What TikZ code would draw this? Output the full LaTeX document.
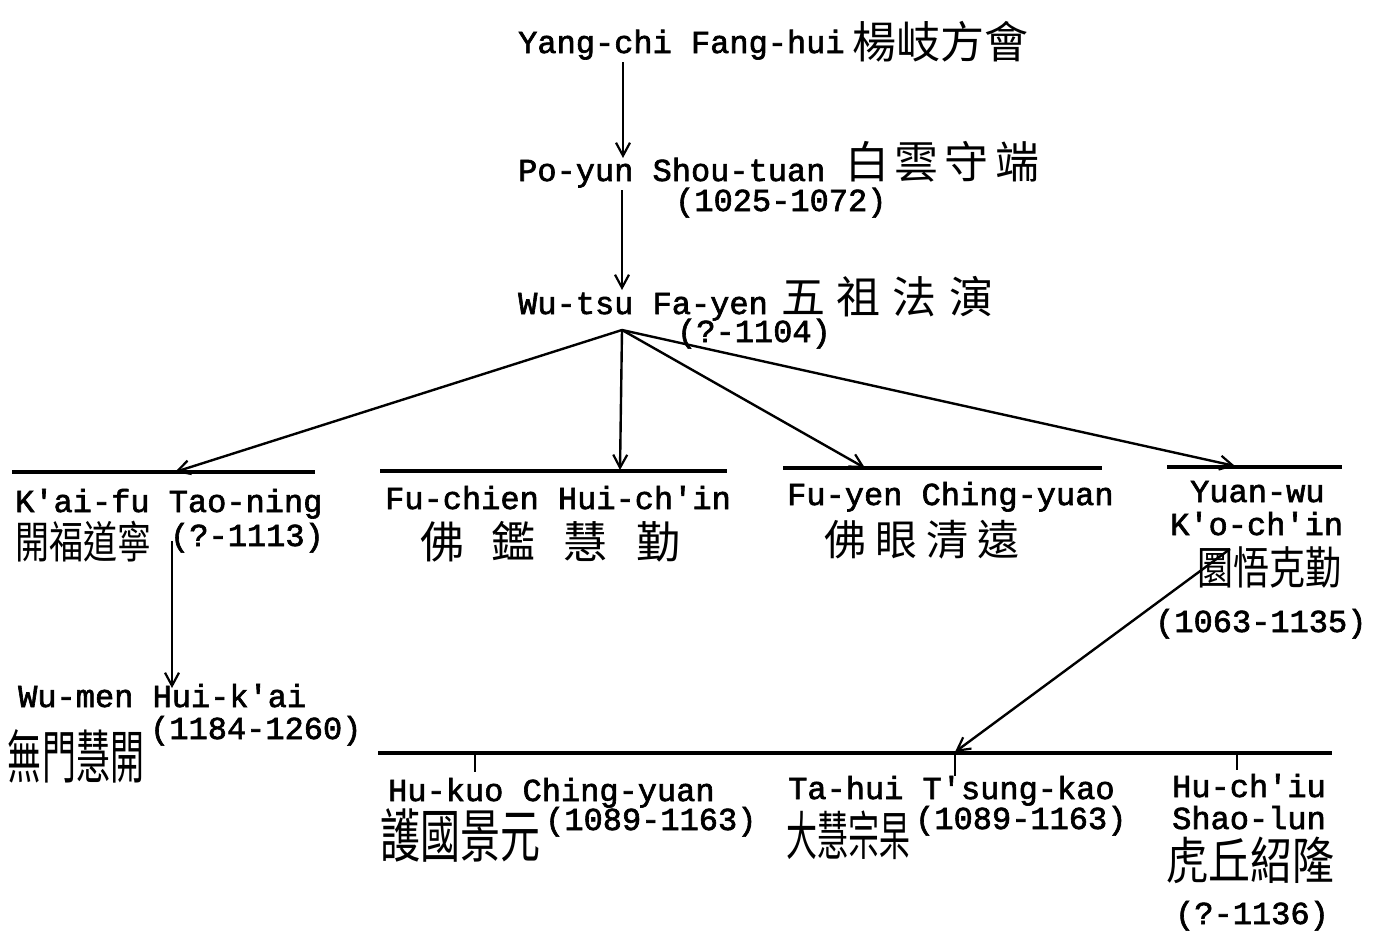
\documentclass[tikz,border=0pt]{standalone}
\usepackage{fontspec}
\newfontfamily\tw{Liberation Mono}[FakeBold=2]
\newfontfamily\cjk{Noto Sans CJK TC}
\usetikzlibrary{arrows.meta}
\newcommand\gp[1]{\hspace{#1pt}}
\newcommand\tallc[2]{\scalebox{1}[#1]{#2}}
\begin{document}
\begin{tikzpicture}[x=1pt,y=-1pt,
  lat/.style={font=\tw\fontsize{32}{32}\selectfont, inner sep=0pt, anchor=base west},
  han/.style={font=\cjk\fontsize{#1}{#1}\selectfont, inner sep=0pt, anchor=center},
  arr/.style={-{Straight Barb[length=13pt,width=14pt,line width=2.2pt]}, line width=2.4pt},
  rule/.style={line width=3.2pt},
  tick/.style={line width=2.4pt}]
\useasboundingbox[fill=white] (0,0) rectangle (1375,932);

% top chain
\node[lat] (yang) at (518,53) {Yang-chi Fang-hui};
\node[han=44] (yangC) at (940,42) {楊岐方會};
\node[lat] (poyun) at (518,181) {Po-yun Shou-tuan};
\node[han=44] (poyunC) at (942,162) {白\gp{6}雲\gp{6}守\gp{6}端};
\node[lat] (poyunD) at (675,211) {(1025-1072)};
\node[lat] (wutsu) at (518,314) {Wu-tsu Fa-yen};
\node[han=44] (wutsuC) at (887,297) {五\gp{12}祖\gp{12}法\gp{12}演};
\node[lat] (wutsuD) at (677,342) {(?-1104)};

\coordinate (a1s) at (623,62);  \coordinate (a1e) at (623,158);
\coordinate (a2s) at (622,190); \coordinate (a2e) at (622,290);
\draw[arr] (a1s) -- (a1e);
\draw[arr] (a2s) -- (a2e);

% hub and branches
\coordinate (hub) at (622,330);
\coordinate (b1) at (175,472);
\coordinate (b2) at (620,470);
\coordinate (b3) at (865,468);
\coordinate (b4) at (1235,466);
\draw[arr] (hub) -- (b1);
\draw[arr] (hub) -- (b2);
\draw[arr] (hub) -- (b3);
\draw[arr] (hub) -- (b4);

% rules of row two
\draw[rule] (12,472) -- (315,472);
\draw[rule] (380,471) -- (727,471);
\draw[rule] (783,468) -- (1102,468);
\draw[rule] (1167,467) -- (1342,467);

% row two
\node[lat] (kaifu) at (15,512) {K'ai-fu Tao-ning};
\node[han=34] (kaifuC) at (83,542) {\tallc{1.3}{開福道寧}};
\node[lat] (kaifuD) at (170,546) {(?-1113)};

\node[lat] (fuchien) at (385,509) {Fu-chien Hui-ch'in};
\node[han=44] (fuchienC) at (550,542) {佛\gp{28}鑑\gp{28}慧\gp{28}勤};

\node[lat] (fuyen) at (787,505) {Fu-yen Ching-yuan};
\node[han=42] (fuyenC) at (922,540) {佛\gp{9}眼\gp{9}清\gp{9}遠};

\node[lat] (yuanwuA) at (1190,502) {Yuan-wu};
\node[lat] (yuanwuB) at (1170,535) {K'o-ch'in};
\node[han=36] (yuanwuC) at (1269,567) {\tallc{1.25}{圜悟克勤}};
\node[lat] (yuanwuD) at (1155,632) {(1063-1135)};

% Kai-fu -> Wu-men
\coordinate (k1) at (172,541);
\coordinate (k2) at (172,688);
\draw[arr] (k1) -- (k2);

\node[lat] (wumen) at (18,707) {Wu-men Hui-k'ai};
\node[han=34] (wumenC) at (76,756) {\tallc{1.7}{無門慧開}};
\node[lat] (wumenD) at (150,739) {(1184-1260)};

% Yuan-wu -> Ta-hui
\coordinate (y1) at (1230,549);
\coordinate (y2) at (955,752);
\draw[arr] (y1) -- (y2);

% bottom rule and ticks
\draw[rule] (378,753) -- (1332,753);
\draw[tick] (475,753) -- (475,772);
\draw[tick] (955,753) -- (955,776);
\draw[tick] (1237,753) -- (1237,770);

% row three
\node[lat] (hukuo) at (388,801) {Hu-kuo Ching-yuan};
\node[han=40] (hukuoC) at (460,835) {\tallc{1.45}{護國景元}};
\node[lat] (hukuoD) at (545,830) {(1089-1163)};

\node[lat] (tahui) at (788,799) {Ta-hui T'sung-kao};
\node[han=31] (tahuiC) at (848,835) {\tallc{1.7}{大慧宗杲}};
\node[lat] (tahuiD) at (915,829) {(1089-1163)};

\node[lat] (huchiuA) at (1172,797) {Hu-ch'iu};
\node[lat] (huchiuB) at (1172,829) {Shao-lun};
\node[han=42] (huchiuC) at (1250,860) {\tallc{1.2}{虎丘紹隆}};
\node[lat] (huchiuD) at (1175,924) {(?-1136)};
\end{tikzpicture}
\end{document}
